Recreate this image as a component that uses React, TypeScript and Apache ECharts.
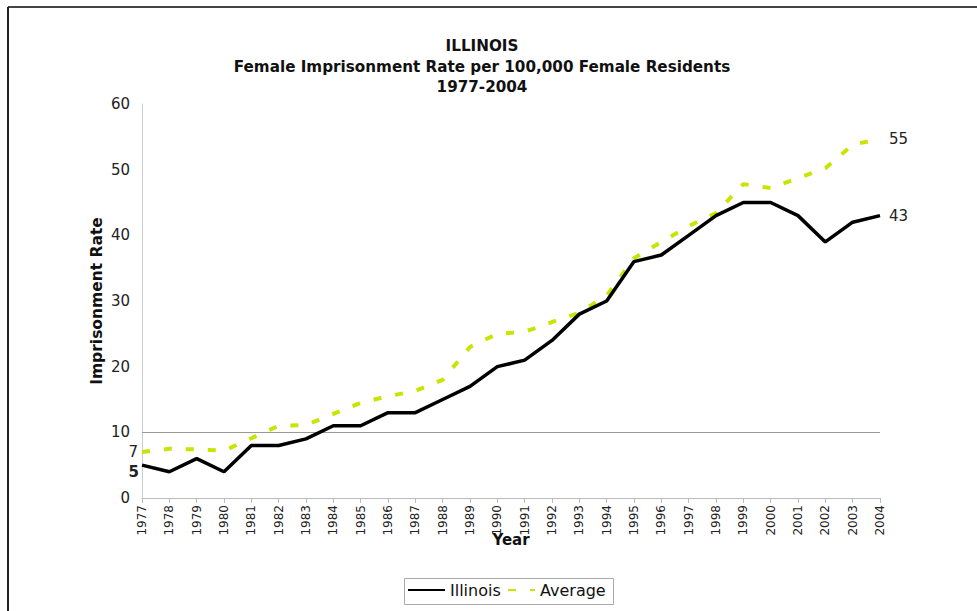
import React, { useEffect, useRef } from "react";
import * as echarts from "echarts";

const years = [
  "1977", "1978", "1979", "1980", "1981", "1982", "1983", "1984", "1985", "1986",
  "1987", "1988", "1989", "1990", "1991", "1992", "1993", "1994", "1995", "1996",
  "1997", "1998", "1999", "2000", "2001", "2002", "2003", "2004",
];

const illinois = [
  5, 4, 6, 4, 8, 8, 9, 11, 11, 13,
  13, 15, 17, 20, 21, 24, 28, 30, 36, 37,
  40, 43, 45, 45, 43, 39, 42, 43,
];

const average = [
  7, 7.5, 7.4, 7.2, 9.1, 11, 11.1, 12.8, 14.5, 15.5,
  16.3, 18, 23, 25, 25.3, 26.8, 28.2, 30.8, 36.5, 39,
  41.4, 43.4, 47.8, 47.2, 48.7, 50.2, 53.8, 54.7,
];

const yTicks = { min: 0, max: 60, interval: 10 };
const startLabels = { illinois: "5", average: "7" };
const endLabels = { illinois: "43", average: "55" };
const titleLines = [
  "ILLINOIS",
  "Female Imprisonment Rate per 100,000 Female Residents",
  "1977-2004",
];

const FONT = "DejaVu Sans";
const GREEN = "#c8e400";

export default function App() {
  const ref = useRef<HTMLDivElement>(null);
  useEffect(() => {
    if (!ref.current) return;
    const chart = echarts.init(ref.current, null, { renderer: "svg" });
    const last = years.length - 1;
    const marks = (vals: number[], start: string, end: string, startBold: boolean) => ({
      silent: true,
      symbol: "circle",
      symbolSize: 0,
      itemStyle: { color: "transparent" },
      data: [
        {
          coord: [years[0], vals[0]],
          label: {
            show: true,
            position: "left",
            distance: 4,
            formatter: start,
            fontFamily: FONT,
            fontSize: 15,
            color: "#222",
            fontWeight: startBold ? "bold" : "normal",
            offset: startBold ? [1, 7] : [0, 0],
          },
        },
        {
          coord: [years[last], vals[last]],
          label: {
            show: true,
            position: "right",
            distance: 9,
            formatter: end,
            fontFamily: FONT,
            fontSize: 15,
            color: "#222",
          },
        },
      ],
    });
    const legendCommon = {
      top: 582,
      itemHeight: 10,
      padding: 0,
      itemStyle: { color: "transparent", borderWidth: 0 },
      textStyle: { fontFamily: FONT, fontSize: 16, color: "#111" },
    };
    chart.setOption({
      animation: false,
      backgroundColor: "#fff",
      textStyle: { fontFamily: FONT },
      graphic: [
        { type: "line", shape: { x1: 8, y1: 7, x2: 977, y2: 7 }, style: { stroke: "#444", lineWidth: 2 } },
        { type: "line", shape: { x1: 8, y1: 7, x2: 8, y2: 611 }, style: { stroke: "#222", lineWidth: 2 } },
        {
          type: "rect",
          shape: { x: 404.5, y: 578.5, width: 209, height: 26 },
          style: { fill: "none", stroke: "#aaa", lineWidth: 1 },
        },
        ...titleLines.map((t, i) => ({
          type: "text",
          x: 482,
          y: 46 + i * 20.5,
          style: {
            text: t,
            textAlign: "center",
            textVerticalAlign: "middle",
            fontFamily: FONT,
            fontSize: 15.2,
            fontWeight: "bold",
            fill: "#111",
          },
        })),
      ],
      legend: [
        { ...legendCommon, left: 407, itemWidth: 37, data: ["Illinois"] },
        { ...legendCommon, left: 507, itemWidth: 27, data: ["Average"] },
      ],
      grid: { left: 142, right: 97, top: 104, bottom: 113, containLabel: false },
      xAxis: {
        type: "category",
        data: years,
        boundaryGap: false,
        name: "Year",
        nameLocation: "middle",
        nameGap: 34,
        nameMoveOverlap: false,
        nameTextStyle: { fontFamily: FONT, fontSize: 15, fontWeight: "bold", color: "#111" },
        axisLine: { lineStyle: { color: "#bbb", width: 1 } },
        axisTick: { show: true, alignWithLabel: true, length: 5, lineStyle: { color: "#bbb" } },
        axisLabel: { rotate: 90, fontFamily: FONT, fontSize: 12, color: "#222", margin: 7, interval: 0 },
        splitLine: { show: false },
      },
      yAxis: {
        type: "value",
        min: yTicks.min,
        max: yTicks.max,
        interval: yTicks.interval,
        name: "Imprisonment Rate",
        nameLocation: "middle",
        nameGap: 37,
        nameMoveOverlap: false,
        nameTextStyle: { fontFamily: FONT, fontSize: 15.5, fontWeight: "bold", color: "#111" },
        axisLine: { show: true, lineStyle: { color: "#ccc", width: 1 } },
        axisTick: { show: false },
        axisLabel: { fontFamily: FONT, fontSize: 15, color: "#222", margin: 12 },
        splitLine: { show: false },
      },
      series: [
        {
          name: "Illinois",
          type: "line",
          data: illinois,
          symbol: "none",
          lineStyle: { color: "#000", width: 3.5 },
          itemStyle: { color: "#000" },
          z: 3,
          markPoint: marks(illinois, startLabels.illinois, endLabels.illinois, true),
          markLine: {
            silent: true,
            symbol: "none",
            label: { show: false },
            lineStyle: { color: "#999", width: 1, type: "solid" },
            data: [{ yAxis: 10 }],
            z: 1,
          },
        },
        {
          name: "Average",
          type: "line",
          data: average,
          symbol: "none",
          lineStyle: { color: GREEN, width: 4, type: [8, 14] },
          itemStyle: { color: GREEN },
          z: 2,
          markPoint: marks(average, startLabels.average, endLabels.average, false),
        },
      ],
    });
    return () => chart.dispose();
  }, []);
  return (
    <div
      ref={ref}
      style={{ position: "absolute", left: 0, top: 0, width: 977, height: 611, background: "#fff" }}
    />
  );
}
